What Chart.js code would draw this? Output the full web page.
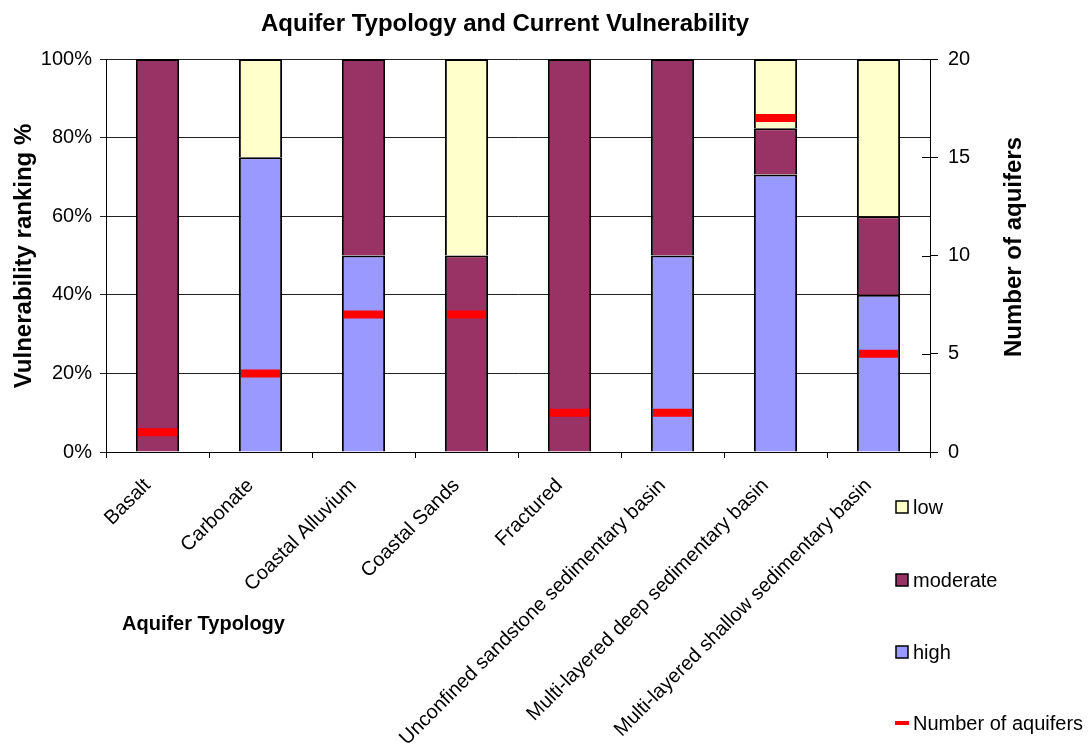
<!DOCTYPE html>
<html>
<head>
<meta charset="utf-8">
<script src="https://cdn.jsdelivr.net/npm/chart.js@4/dist/chart.umd.min.js"></script>
<style>
  html, body { margin: 0; padding: 0; background: #fff; }
  #wrap { width: 1091px; height: 749px; position: relative; }
</style>
</head>
<body>
<div id="wrap"><canvas id="chart"></canvas></div>
<script>
// Aquifer typologies along the x axis
const categories = [
  'Basalt',
  'Carbonate',
  'Coastal Alluvium',
  'Coastal Sands',
  'Fractured',
  'Unconfined sandstone sedimentary basin',
  'Multi-layered deep sedimentary basin',
  'Multi-layered shallow sedimentary basin'
];

// Share of aquifers in each vulnerability class (%)
const highShare     = [0, 75, 50, 0, 0, 50, 70.59, 40];
const moderateShare = [100, 0, 50, 50, 100, 50, 11.76, 20];
const lowShare      = [0, 25, 0, 50, 0, 0, 17.65, 40];

// Number of aquifers per typology (right axis)
const aquiferCount = [1, 4, 7, 7, 2, 2, 17, 5];

// Axis tick values
const percentTicks = [0, 20, 40, 60, 80, 100];
const countTicks = [0, 5, 10, 15, 20];

const FONT = '"Liberation Sans", Arial, Helvetica, sans-serif';
const COLORS = { high: '#9999FF', moderate: '#993366', low: '#FFFFCC', count: '#FF0000' };

const legendItems = [
  { label: 'low', color: COLORS.low, y: 507 },
  { label: 'moderate', color: COLORS.moderate, y: 580 },
  { label: 'high', color: COLORS.high, y: 652 },
  { label: 'Number of aquifers', color: COLORS.count, y: 723, line: true }
];

// Titles, legend and the cross ticks of the right axis
const decorations = {
  id: 'decorations',
  afterDraw(chart) {
    const ctx = chart.ctx;
    ctx.save();
    ctx.fillStyle = '#000';

    // chart title
    ctx.font = 'bold 24px ' + FONT;
    ctx.textAlign = 'center';
    ctx.textBaseline = 'alphabetic';
    ctx.fillText('Aquifer Typology and Current Vulnerability', 505, 31);

    // left axis title
    ctx.save();
    ctx.translate(24, 256);
    ctx.rotate(-Math.PI / 2);
    ctx.textBaseline = 'middle';
    ctx.fillText('Vulnerability ranking %', 0, 0);
    ctx.restore();

    // right axis title
    ctx.save();
    ctx.translate(1014, 247);
    ctx.rotate(-Math.PI / 2);
    ctx.textBaseline = 'middle';
    ctx.fillText('Number of aquifers', 0, 0);
    ctx.restore();

    // x axis title
    ctx.font = 'bold 20px ' + FONT;
    ctx.textAlign = 'left';
    ctx.textBaseline = 'middle';
    ctx.fillText('Aquifer Typology', 122, 624);

    // inner half of the right axis tick marks
    const y1 = chart.scales.y1;
    ctx.strokeStyle = '#000';
    ctx.lineWidth = 1;
    y1.ticks.forEach(t => {
      const py = Math.round(y1.getPixelForValue(t.value)) + 0.5;
      ctx.beginPath();
      ctx.moveTo(y1.left - 8, py);
      ctx.lineTo(y1.left, py);
      ctx.stroke();
    });

    // legend
    ctx.font = '20px ' + FONT;
    legendItems.forEach(it => {
      if (it.line) {
        ctx.fillStyle = it.color;
        ctx.fillRect(895, it.y - 2, 14, 4);
      } else {
        ctx.fillStyle = it.color;
        ctx.fillRect(896, it.y - 6, 12, 12);
        ctx.strokeStyle = '#000';
        ctx.lineWidth = 1.5;
        ctx.strokeRect(896, it.y - 6, 12, 12);
      }
      ctx.fillStyle = '#000';
      ctx.fillText(it.label, 913, it.y + 1);
    });
    ctx.restore();
  }
};

const barStyle = {
  borderColor: '#000',
  borderWidth: 2,
  borderSkipped: 'start',
  barPercentage: 0.42,
  categoryPercentage: 1.0,
  yAxisID: 'y',
  order: 2
};

new Chart(document.getElementById('chart'), {
  type: 'bar',
  data: {
    labels: categories,
    datasets: [
      Object.assign({ label: 'high', data: highShare, backgroundColor: COLORS.high }, barStyle),
      Object.assign({ label: 'moderate', data: moderateShare, backgroundColor: COLORS.moderate }, barStyle),
      Object.assign({ label: 'low', data: lowShare, backgroundColor: COLORS.low }, barStyle),
      {
        type: 'line',
        label: 'Number of aquifers',
        data: aquiferCount,
        yAxisID: 'y1',
        showLine: false,
        pointStyle: 'line',
        pointRadius: 19.5,
        pointHoverRadius: 19.5,
        pointBorderWidth: 8,
        pointHoverBorderWidth: 8,
        borderColor: COLORS.count,
        backgroundColor: COLORS.count,
        order: 0
      }
    ]
  },
  options: {
    responsive: true,
    maintainAspectRatio: false,
    animation: false,
    events: [],
    layout: { padding: { top: 59, left: 0, right: 0, bottom: 0 } },
    plugins: {
      legend: { display: false },
      title: { display: false },
      tooltip: { enabled: false }
    },
    scales: {
      x: {
        stacked: true,
        offset: true,
        grid: {
          offset: true,
          drawOnChartArea: false,
          drawTicks: true,
          tickLength: 6,
          color: '#000'
        },
        border: { color: '#000', width: 1 },
        ticks: {
          autoSkip: false,
          minRotation: 45,
          maxRotation: 45,
          padding: 16,
          labelOffset: -10,
          color: '#000',
          font: { family: FONT, size: 20 }
        },
        afterFit(scale) { scale.height = 297; }
      },
      y: {
        stacked: true,
        position: 'left',
        min: 0,
        max: 100,
        afterBuildTicks(scale) { scale.ticks = percentTicks.map(v => ({ value: v })); },
        grid: { color: '#222', lineWidth: 1, tickLength: 6 },
        border: { color: '#000', width: 1 },
        ticks: {
          padding: 8,
          color: '#000',
          font: { family: FONT, size: 20 },
          callback: v => v + '%'
        },
        afterFit(scale) { scale.width = 106; }
      },
      y1: {
        position: 'right',
        min: 0,
        max: 20,
        afterBuildTicks(scale) { scale.ticks = countTicks.map(v => ({ value: v })); },
        grid: { drawOnChartArea: false, color: '#000', tickLength: 8 },
        border: { color: '#000', width: 1 },
        ticks: {
          padding: 10,
          color: '#000',
          font: { family: FONT, size: 20 }
        },
        afterFit(scale) { scale.width = 161; }
      }
    }
  },
  plugins: [decorations]
});
</script>
</body>
</html>
